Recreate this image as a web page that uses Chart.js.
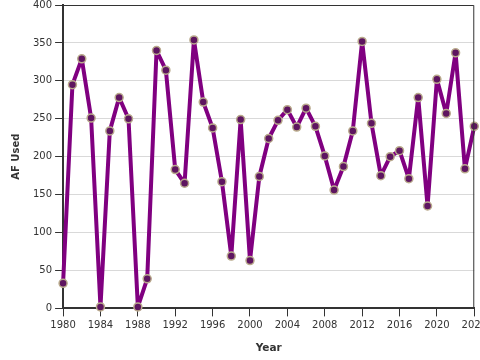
<!DOCTYPE html>
<html>
<head>
<meta charset="utf-8">
<script src="https://cdn.jsdelivr.net/npm/chart.js@4/dist/chart.umd.min.js"></script>
<style>
html,body{margin:0;padding:0;background:#fff;overflow:hidden;}
#wrap{width:480px;height:360px;overflow:hidden;position:relative;}
#box{position:absolute;left:0;top:-4px;width:490px;height:364px;}
</style>
</head>
<body>
<div id="wrap"><div id="box"><canvas id="c"></canvas></div></div>
<script>
const years = [1980,1981,1982,1983,1984,1985,1986,1987,1988,1989,
               1990,1991,1992,1993,1994,1995,1996,1997,1998,1999,
               2000,2001,2002,2003,2004,2005,2006,2007,2008,2009,
               2010,2011,2012,2013,2014,2015,2016,2017,2018,2019,
               2020,2021,2022,2023,2024];
const afUsed = [33,295,329,251,2,234,278,250,2,39,
                340,314,183,165,354,272,238,167,69,249,
                63,174,224,248,262,239,264,240,201,156,
                187,234,352,244,175,200,208,171,278,135,
                302,257,337,184,240];
const xTicks = [1980,1984,1988,1992,1996,2000,2004,2008,2012,2016,2020,2024];
const yTicks = [0,50,100,150,200,250,300,350,400];

const frame = {
  id:'frame',
  afterDatasetsDraw(chart){
    const a = chart.chartArea, ctx = chart.ctx;
    ctx.save();
    ctx.strokeStyle = '#333';
    ctx.lineWidth = 1;
    ctx.beginPath();
    ctx.moveTo(a.left, a.top + 0.5);
    ctx.lineTo(a.right - 0.5, a.top + 0.5);
    ctx.lineTo(a.right - 0.5, a.bottom);
    ctx.stroke();
    ctx.restore();
  }
};

new Chart(document.getElementById('c'), {
  type: 'line',
  data: {
    datasets: [{
      data: years.map((y,i)=>({x:y, y:afUsed[i]})),
      borderColor: '#800080',
      borderWidth: 4,
      borderJoinStyle: 'round',
      borderCapStyle: 'round',
      pointRadius: 4,
      pointBackgroundColor: '#5e1560',
      pointBorderColor: '#b9aa8c',
      pointBorderWidth: 1.5,
      tension: 0,
      clip: false
    }]
  },
  options: {
    responsive: true,
    maintainAspectRatio: false,
    animation: false,
    layout: { padding: { left: 10, top: 0, right: 0, bottom: 5 } },
    plugins: { legend: { display: false }, tooltip: { enabled: false } },
    scales: {
      x: {
        type: 'linear',
        min: 1980, max: 2024,
        afterBuildTicks(s){ s.ticks = xTicks.map(v=>({value:v})); },
        ticks: { color: '#333', font: { family: 'DejaVu Sans', size: 10 }, padding: 3, maxRotation: 0, callback: v => String(v) },
        grid: { display: true, drawOnChartArea: false, drawTicks: true, tickLength: 8, tickColor: '#333', tickWidth: 1 },
        border: { display: true, color: '#333', width: 2 },
        title: { display: true, text: 'Year', color: '#333', font: { family: 'DejaVu Sans', size: 10.5, weight: 'bold' }, padding: { top: 8, bottom: 0 } }
      },
      y: {
        min: 0, max: 400,
        afterBuildTicks(s){ s.ticks = yTicks.map(v=>({value:v})); },
        ticks: { color: '#333', font: { family: 'DejaVu Sans', size: 10 }, padding: 3 },
        grid: { color: '#d9d9d9', lineWidth: 1, drawTicks: true, tickLength: 8, tickColor: '#333' },
        border: { display: true, color: '#333', width: 2 },
        title: { display: true, text: 'AF Used', color: '#333', font: { family: 'DejaVu Sans', size: 10, weight: 'bold' }, padding: { top: 0, bottom: 8 } }
      }
    }
  },
  plugins: [frame]
});
</script>
</body>
</html>
